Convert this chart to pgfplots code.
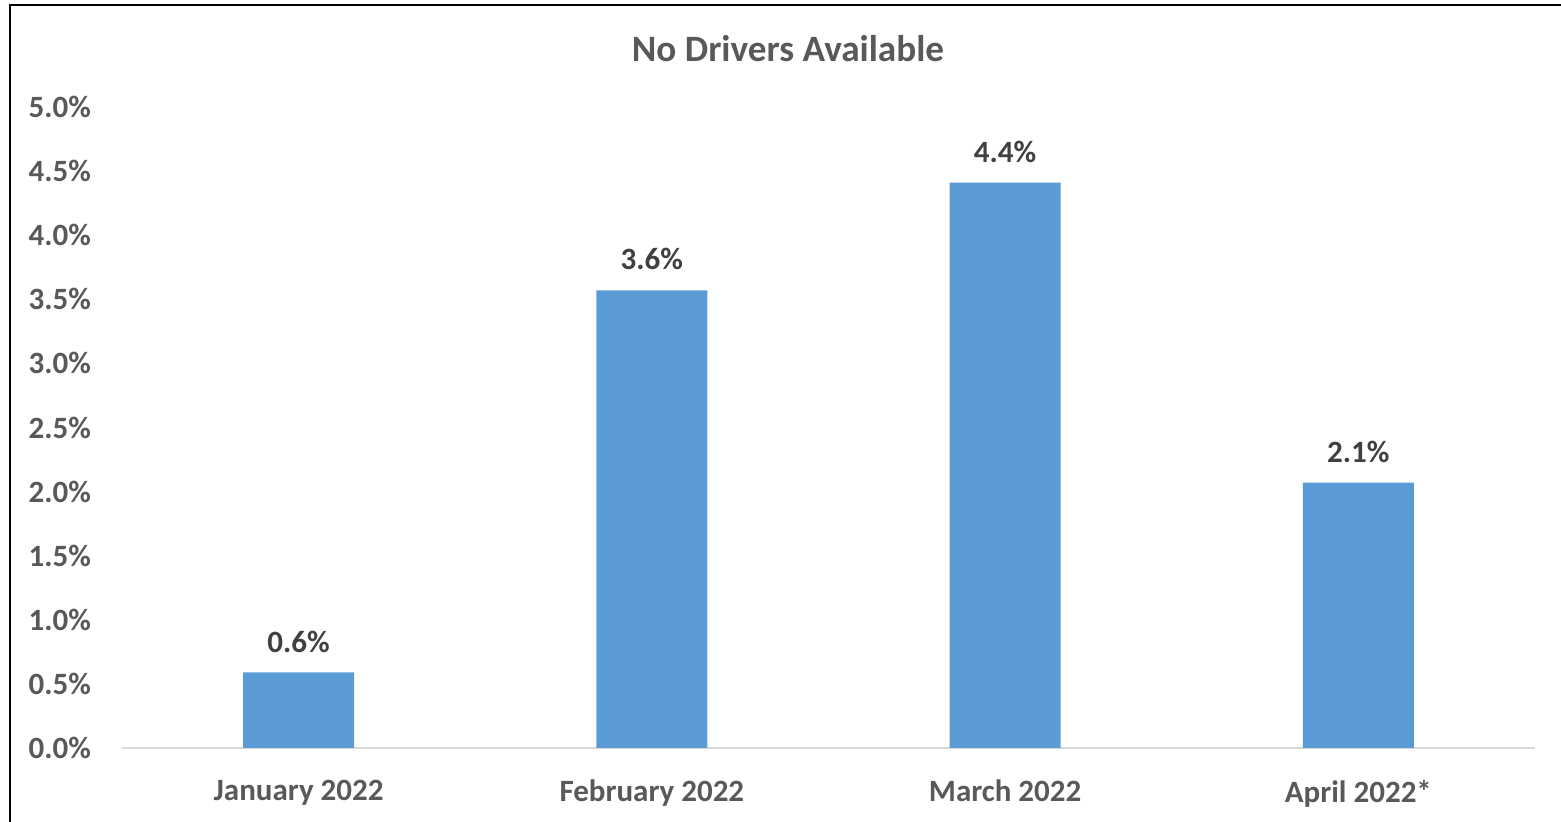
\documentclass[border=0pt]{standalone}
\usepackage{pgfplots}
\pgfplotsset{compat=1.18}
\usepackage{fontspec}
\setmainfont{Carlito}
\definecolor{barblue}{HTML}{5B9BD5}
\definecolor{ticktext}{HTML}{595959}
\definecolor{labeltext}{HTML}{404040}
\definecolor{axisgray}{HTML}{D9D9D9}
\begin{document}
\begin{tikzpicture}
\useasboundingbox (0,0) rectangle (780.5pt,411pt);
\draw[line width=1pt,black] (5pt,0pt) -- (5pt,408.5pt) -- (780.5pt,408.5pt);
\node[font=\fontsize{18.6}{22}\selectfont\bfseries,text=ticktext] at (394pt,386.5pt) {No Drivers Available};
\begin{axis}[
  at={(61pt,37pt)}, anchor=south west,
  scale only axis,
  width=706.5pt, height=320.5pt,
  ybar, bar width=55.5pt,
  xmin=-0.5, xmax=3.5, ymin=0, ymax=5,
  xtick=data,
  xticklabels={January 2022,February 2022,March 2022,April 2022*},
  ytick={0,0.5,...,5},
  /pgf/number format/assume math mode=true,
  yticklabel={\pgfmathprintnumber[fixed,fixed zerofill,precision=1]{\tick}\%},
  axis x line*=bottom, axis y line*=left,
  x axis line style={axisgray,line width=1pt,-},
  y axis line style={draw=none},
  major tick length=0pt,
  tick style={draw=none},
  ticklabel style={font=\fontsize{15.5}{18}\selectfont\bfseries,text=ticktext},
  xticklabel style={yshift=-12.5pt},
  yticklabel style={xshift=-12pt},
  nodes near coords={\pgfmathprintnumber[fixed,fixed zerofill,precision=1]{\pgfplotspointmeta}\%},
  every node near coord/.append style={font=\fontsize{15.5}{18}\selectfont\bfseries,text=labeltext,yshift=6.5pt},
  clip=false,
]
\addplot[fill=barblue,draw=none] coordinates {(0,0.59) (1,3.57) (2,4.41) (3,2.07)};
\end{axis}
\end{tikzpicture}
\end{document}
